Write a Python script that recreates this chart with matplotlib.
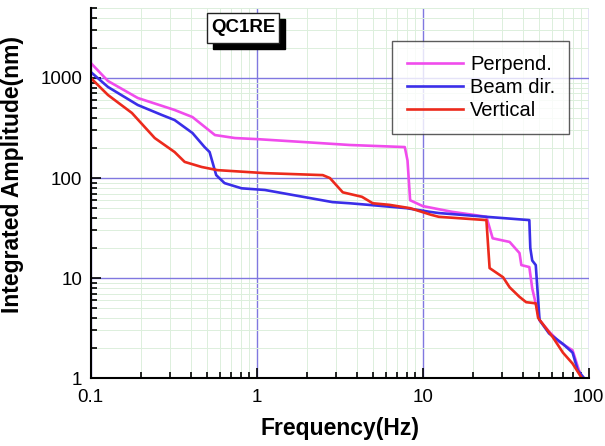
import numpy as np
import matplotlib.pyplot as plt
from matplotlib.patches import Rectangle

plt.rcParams['font.family'] = ['Liberation Sans', 'DejaVu Sans']

# integrated amplitude curves, frequency (Hz) vs amplitude (nm)
perp_f = [0.1, 0.127, 0.192, 0.32, 0.41, 0.56, 0.74, 1.0, 2.0, 3.63, 7.8, 8.1, 8.4,
          10.0, 15.0, 20.0, 24.2, 26.4, 33.4, 38.3, 39.3, 43.9, 45.7, 50.6, 58.0,
          66.6, 80.0, 86.0, 91.0]
perp_a = [1413, 933, 631, 479, 407, 269, 251, 245, 228, 214, 204, 150, 60,
          52.5, 46, 43, 41, 25, 23, 17.8, 13.5, 12.9, 7.9, 3.8, 2.9,
          2.3, 1.9, 1.3, 1.0]

beam_f = [0.1, 0.127, 0.192, 0.268, 0.32, 0.41, 0.485, 0.52, 0.57, 0.64, 0.81, 1.12,
          2.86, 3.63, 4.9, 8.0, 11.0, 12.5, 24.2, 43.9, 44.5, 45.7, 48.0, 50.6,
          57.7, 70.0, 80.0, 86.0, 94.0]
beam_a = [1148, 813, 537, 427, 380, 282, 204, 182, 107, 89, 79, 76,
          57.5, 56, 53.7, 50, 46, 44.7, 41, 38, 20, 15, 13.5, 3.8,
          2.8, 2.2, 1.8, 1.2, 1.0]

vert_f = [0.1, 0.127, 0.177, 0.243, 0.32, 0.368, 0.466, 0.58, 1.12, 2.5, 2.76, 3.3,
          4.3, 5.0, 6.3, 8.4, 11.2, 12.5, 24.2, 25.3, 30.5, 33.4, 38.3, 42.0,
          48.0, 49.6, 60.5, 70.0, 80.0, 91.0]
vert_a = [1000, 676, 447, 251, 182, 145, 129, 120, 112, 107, 100, 72,
          65, 56, 54, 50, 43, 41, 38, 12.6, 10.2, 8.1, 6.5, 5.75,
          5.6, 4.0, 2.6, 1.8, 1.4, 1.0]

fig = plt.figure(figsize=(6.05, 4.46), dpi=100)
ax = fig.add_axes([0.150, 0.152, 0.823, 0.830])

ax.plot(perp_f, perp_a, color='#f04cec', lw=1.9, label='Perpend.')
ax.plot(beam_f, beam_a, color='#3a2ee8', lw=1.9, label='Beam dir.')
ax.plot(vert_f, vert_a, color='#ec2a1c', lw=1.9, label='Vertical')

ax.set_xscale('log')
ax.set_yscale('log')
ax.set_xlim(0.1, 100)
ax.set_ylim(1, 5000)

ax.grid(which='minor', color='#dcefdc', lw=0.7)
ax.grid(which='major', color='#8078e0', lw=1.0)
ax.set_axisbelow(True)

ax.set_xticks([0.1, 1, 10, 100])
ax.set_xticklabels(['0.1', '1', '10', '100'])
ax.set_yticks([1, 10, 100, 1000])
ax.set_yticklabels(['1', '10', '100', '1000'])
ax.tick_params(which='both', direction='in', labelsize=13.5, width=1.2)
ax.tick_params(which='major', length=7)
ax.tick_params(which='minor', length=4)
ax.tick_params(axis='x', pad=8)
ax.tick_params(axis='y', pad=6)

for s in ['top', 'right']:
    ax.spines[s].set_visible(False)
for s in ['left', 'bottom']:
    ax.spines[s].set_linewidth(1.5)

ax.set_xlabel('Frequency(Hz)', fontsize=16.5, fontweight='bold', labelpad=8)
ax.set_ylabel('Integrated Amplitude(nm)', fontsize=16.5, fontweight='bold')
ax.yaxis.set_label_coords(-0.135, 0.55)

# title box with a black drop shadow
fig.patches.append(Rectangle((213 / 605, 1 - 49 / 446), 72 / 605, 30 / 446,
                             transform=fig.transFigure, color='black', zorder=5))
fig.patches.append(Rectangle((207 / 605, 1 - 43 / 446), 72 / 605, 30 / 446,
                             transform=fig.transFigure, facecolor='white',
                             edgecolor='#222222', lw=1.0, zorder=6))
fig.text(243 / 605, 1 - 28 / 446, 'QC1RE', ha='center', va='center',
         fontsize=13.5, fontweight='bold', zorder=7)

leg = ax.legend(loc='upper left', bbox_to_anchor=(0.606, 0.911), borderaxespad=0,
                frameon=True, fancybox=False, fontsize=14.5, handlelength=2.8,
                borderpad=0.7, labelspacing=0.2, handletextpad=0.35)
leg.get_frame().set_edgecolor('#333333')
leg.get_frame().set_linewidth(1.0)

fig.savefig('out.png', dpi=100)
